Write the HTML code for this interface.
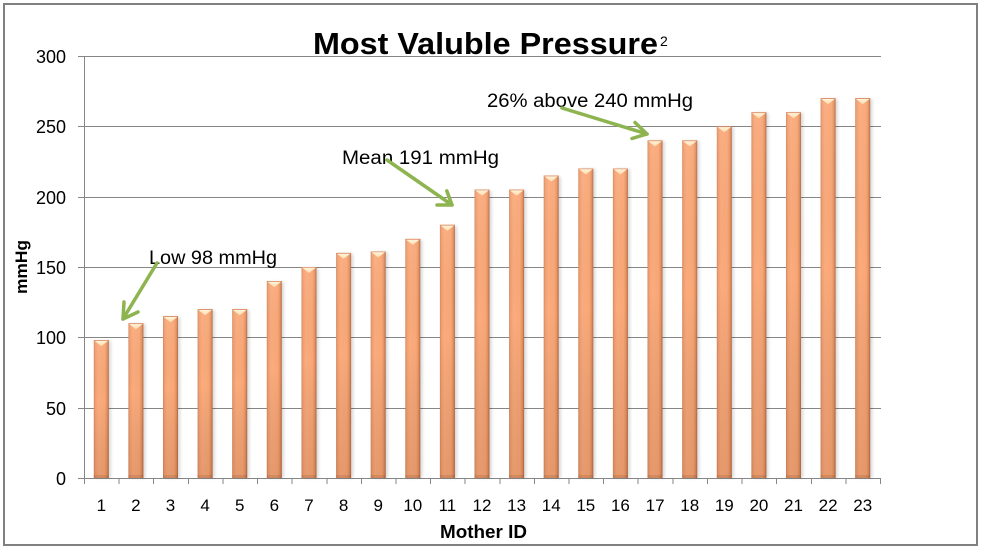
<!DOCTYPE html>
<html><head><meta charset="utf-8">
<style>
html,body{margin:0;padding:0;background:#fff;}
svg{display:block;}
text{font-family:"Liberation Sans",Arial,sans-serif;fill:#000;}
</style></head>
<body>
<svg width="981" height="550" viewBox="0 0 981 550" xmlns="http://www.w3.org/2000/svg">
<defs>
<linearGradient id="gh" x1="0" y1="0" x2="1" y2="0">
<stop offset="0" stop-color="#d4865c"/>
<stop offset="0.1" stop-color="#f0a072"/>
<stop offset="0.3" stop-color="#fbab7c"/>
<stop offset="0.72" stop-color="#f8a878"/>
<stop offset="0.88" stop-color="#e8935f"/>
<stop offset="1" stop-color="#b46847"/>
</linearGradient>
<linearGradient id="gv" x1="0" y1="0" x2="0" y2="1">
<stop offset="0" stop-color="#fff" stop-opacity="0.05"/>
<stop offset="0.45" stop-color="#000" stop-opacity="0"/>
<stop offset="1" stop-color="#6a3010" stop-opacity="0.14"/>
</linearGradient>
<linearGradient id="cap" x1="0" y1="0" x2="0" y2="1">
<stop offset="0" stop-color="#fff4dc"/>
<stop offset="1" stop-color="#ffdcaa"/>
</linearGradient>
<filter id="bl" x="-50%" y="-10%" width="200%" height="120%"><feGaussianBlur stdDeviation="1.6"/></filter>
<g id="capg"><rect width="15" height="0.8" fill="#d98a60"/><path d="M0.8,0.8H14.2L7.5,6Z" fill="url(#cap)"/></g>
</defs>

<rect x="4" y="4" width="973" height="541" fill="#fff" stroke="#808080" stroke-width="2"/>

<!-- gridlines -->
<g stroke="#868686" stroke-width="1" shape-rendering="crispEdges">
<line x1="78" y1="56.5" x2="881" y2="56.5"/>
<line x1="78" y1="126.5" x2="881" y2="126.5"/>
<line x1="78" y1="197.5" x2="881" y2="197.5"/>
<line x1="78" y1="267.5" x2="881" y2="267.5"/>
<line x1="78" y1="337.5" x2="881" y2="337.5"/>
<line x1="78" y1="408.5" x2="881" y2="408.5"/>
<line x1="78" y1="478.5" x2="881" y2="478.5"/>
<line x1="84.5" y1="56" x2="84.5" y2="484"/>
<line x1="119.1" y1="478" x2="119.1" y2="484"/>
<line x1="153.7" y1="478" x2="153.7" y2="484"/>
<line x1="188.3" y1="478" x2="188.3" y2="484"/>
<line x1="222.9" y1="478" x2="222.9" y2="484"/>
<line x1="257.5" y1="478" x2="257.5" y2="484"/>
<line x1="292.1" y1="478" x2="292.1" y2="484"/>
<line x1="326.8" y1="478" x2="326.8" y2="484"/>
<line x1="361.4" y1="478" x2="361.4" y2="484"/>
<line x1="396" y1="478" x2="396" y2="484"/>
<line x1="430.6" y1="478" x2="430.6" y2="484"/>
<line x1="465.2" y1="478" x2="465.2" y2="484"/>
<line x1="499.8" y1="478" x2="499.8" y2="484"/>
<line x1="534.4" y1="478" x2="534.4" y2="484"/>
<line x1="569" y1="478" x2="569" y2="484"/>
<line x1="603.6" y1="478" x2="603.6" y2="484"/>
<line x1="638.2" y1="478" x2="638.2" y2="484"/>
<line x1="672.8" y1="478" x2="672.8" y2="484"/>
<line x1="707.5" y1="478" x2="707.5" y2="484"/>
<line x1="742.1" y1="478" x2="742.1" y2="484"/>
<line x1="776.7" y1="478" x2="776.7" y2="484"/>
<line x1="811.3" y1="478" x2="811.3" y2="484"/>
<line x1="845.9" y1="478" x2="845.9" y2="484"/>
<line x1="880.5" y1="478" x2="880.5" y2="484"/>
</g>

<!-- shadows -->
<g fill="#000" opacity="0.16" filter="url(#bl)">
<rect x="95.8" y="341" width="15" height="137"/>
<rect x="130.4" y="324" width="15" height="154"/>
<rect x="165" y="317" width="15" height="161"/>
<rect x="199.6" y="310" width="15" height="168"/>
<rect x="234.2" y="310" width="15" height="168"/>
<rect x="268.8" y="282" width="15" height="196"/>
<rect x="303.5" y="268" width="15" height="210"/>
<rect x="338.1" y="254" width="15" height="224"/>
<rect x="372.7" y="252" width="15" height="226"/>
<rect x="407.3" y="240" width="15" height="238"/>
<rect x="441.9" y="226" width="15" height="252"/>
<rect x="476.5" y="191" width="15" height="287"/>
<rect x="511.1" y="191" width="15" height="287"/>
<rect x="545.7" y="177" width="15" height="301"/>
<rect x="580.3" y="169" width="15" height="309"/>
<rect x="614.9" y="169" width="15" height="309"/>
<rect x="649.5" y="141" width="15" height="337"/>
<rect x="684.2" y="141" width="15" height="337"/>
<rect x="718.8" y="127" width="15" height="351"/>
<rect x="753.4" y="113" width="15" height="365"/>
<rect x="788" y="113" width="15" height="365"/>
<rect x="822.6" y="99" width="15" height="379"/>
<rect x="857.2" y="99" width="15" height="379"/>
</g>

<!-- bars -->
<g>
<g transform="translate(93.8,340.1)"><rect width="15" height="137.9" fill="url(#gh)"/><rect width="15" height="137.9" fill="url(#gv)"/><rect y="134.9" width="15" height="3" fill="#6b3418" opacity=".15"/><use href="#capg"/></g>
<g transform="translate(128.4,323.3)"><rect width="15" height="154.7" fill="url(#gh)"/><rect width="15" height="154.7" fill="url(#gv)"/><rect y="151.7" width="15" height="3" fill="#6b3418" opacity=".15"/><use href="#capg"/></g>
<g transform="translate(163,316.2)"><rect width="15" height="161.8" fill="url(#gh)"/><rect width="15" height="161.8" fill="url(#gv)"/><rect y="158.8" width="15" height="3" fill="#6b3418" opacity=".15"/><use href="#capg"/></g>
<g transform="translate(197.6,309.2)"><rect width="15" height="168.8" fill="url(#gh)"/><rect width="15" height="168.8" fill="url(#gv)"/><rect y="165.8" width="15" height="3" fill="#6b3418" opacity=".15"/><use href="#capg"/></g>
<g transform="translate(232.2,309.2)"><rect width="15" height="168.8" fill="url(#gh)"/><rect width="15" height="168.8" fill="url(#gv)"/><rect y="165.8" width="15" height="3" fill="#6b3418" opacity=".15"/><use href="#capg"/></g>
<g transform="translate(266.8,281.1)"><rect width="15" height="196.9" fill="url(#gh)"/><rect width="15" height="196.9" fill="url(#gv)"/><rect y="193.9" width="15" height="3" fill="#6b3418" opacity=".15"/><use href="#capg"/></g>
<g transform="translate(301.5,267)"><rect width="15" height="211" fill="url(#gh)"/><rect width="15" height="211" fill="url(#gv)"/><rect y="208" width="15" height="3" fill="#6b3418" opacity=".15"/><use href="#capg"/></g>
<g transform="translate(336.1,252.9)"><rect width="15" height="225.1" fill="url(#gh)"/><rect width="15" height="225.1" fill="url(#gv)"/><rect y="222.1" width="15" height="3" fill="#6b3418" opacity=".15"/><use href="#capg"/></g>
<g transform="translate(370.7,251.5)"><rect width="15" height="226.5" fill="url(#gh)"/><rect width="15" height="226.5" fill="url(#gv)"/><rect y="223.5" width="15" height="3" fill="#6b3418" opacity=".15"/><use href="#capg"/></g>
<g transform="translate(405.3,238.9)"><rect width="15" height="239.1" fill="url(#gh)"/><rect width="15" height="239.1" fill="url(#gv)"/><rect y="236.1" width="15" height="3" fill="#6b3418" opacity=".15"/><use href="#capg"/></g>
<g transform="translate(439.9,224.8)"><rect width="15" height="253.2" fill="url(#gh)"/><rect width="15" height="253.2" fill="url(#gv)"/><rect y="250.2" width="15" height="3" fill="#6b3418" opacity=".15"/><use href="#capg"/></g>
<g transform="translate(474.5,189.6)"><rect width="15" height="288.4" fill="url(#gh)"/><rect width="15" height="288.4" fill="url(#gv)"/><rect y="285.4" width="15" height="3" fill="#6b3418" opacity=".15"/><use href="#capg"/></g>
<g transform="translate(509.1,189.6)"><rect width="15" height="288.4" fill="url(#gh)"/><rect width="15" height="288.4" fill="url(#gv)"/><rect y="285.4" width="15" height="3" fill="#6b3418" opacity=".15"/><use href="#capg"/></g>
<g transform="translate(543.7,175.6)"><rect width="15" height="302.4" fill="url(#gh)"/><rect width="15" height="302.4" fill="url(#gv)"/><rect y="299.4" width="15" height="3" fill="#6b3418" opacity=".15"/><use href="#capg"/></g>
<g transform="translate(578.3,168.5)"><rect width="15" height="309.5" fill="url(#gh)"/><rect width="15" height="309.5" fill="url(#gv)"/><rect y="306.5" width="15" height="3" fill="#6b3418" opacity=".15"/><use href="#capg"/></g>
<g transform="translate(612.9,168.5)"><rect width="15" height="309.5" fill="url(#gh)"/><rect width="15" height="309.5" fill="url(#gv)"/><rect y="306.5" width="15" height="3" fill="#6b3418" opacity=".15"/><use href="#capg"/></g>
<g transform="translate(647.5,140.4)"><rect width="15" height="337.6" fill="url(#gh)"/><rect width="15" height="337.6" fill="url(#gv)"/><rect y="334.6" width="15" height="3" fill="#6b3418" opacity=".15"/><use href="#capg"/></g>
<g transform="translate(682.2,140.4)"><rect width="15" height="337.6" fill="url(#gh)"/><rect width="15" height="337.6" fill="url(#gv)"/><rect y="334.6" width="15" height="3" fill="#6b3418" opacity=".15"/><use href="#capg"/></g>
<g transform="translate(716.8,126.3)"><rect width="15" height="351.7" fill="url(#gh)"/><rect width="15" height="351.7" fill="url(#gv)"/><rect y="348.7" width="15" height="3" fill="#6b3418" opacity=".15"/><use href="#capg"/></g>
<g transform="translate(751.4,112.3)"><rect width="15" height="365.7" fill="url(#gh)"/><rect width="15" height="365.7" fill="url(#gv)"/><rect y="362.7" width="15" height="3" fill="#6b3418" opacity=".15"/><use href="#capg"/></g>
<g transform="translate(786,112.3)"><rect width="15" height="365.7" fill="url(#gh)"/><rect width="15" height="365.7" fill="url(#gv)"/><rect y="362.7" width="15" height="3" fill="#6b3418" opacity=".15"/><use href="#capg"/></g>
<g transform="translate(820.6,98.2)"><rect width="15" height="379.8" fill="url(#gh)"/><rect width="15" height="379.8" fill="url(#gv)"/><rect y="376.8" width="15" height="3" fill="#6b3418" opacity=".15"/><use href="#capg"/></g>
<g transform="translate(855.2,98.2)"><rect width="15" height="379.8" fill="url(#gh)"/><rect width="15" height="379.8" fill="url(#gv)"/><rect y="376.8" width="15" height="3" fill="#6b3418" opacity=".15"/><use href="#capg"/></g>
</g>

<!-- y labels -->
<g font-size="18" text-anchor="end">
<text x="66" y="63">300</text>
<text x="66" y="133">250</text>
<text x="66" y="204">200</text>
<text x="66" y="274">150</text>
<text x="66" y="344">100</text>
<text x="66" y="415">50</text>
<text x="66" y="485">0</text>
</g>

<!-- x labels -->
<g font-size="17" text-anchor="middle">
<text x="101.3" y="511">1</text>
<text x="135.9" y="511">2</text>
<text x="170.5" y="511">3</text>
<text x="205.1" y="511">4</text>
<text x="239.7" y="511">5</text>
<text x="274.4" y="511">6</text>
<text x="309" y="511">7</text>
<text x="343.6" y="511">8</text>
<text x="378.2" y="511">9</text>
<text x="412.8" y="511">10</text>
<text x="447.4" y="511">11</text>
<text x="482" y="511">12</text>
<text x="516.6" y="511">13</text>
<text x="551.2" y="511">14</text>
<text x="585.8" y="511">15</text>
<text x="620.4" y="511">16</text>
<text x="655.1" y="511">17</text>
<text x="689.7" y="511">18</text>
<text x="724.3" y="511">19</text>
<text x="758.9" y="511">20</text>
<text x="793.5" y="511">21</text>
<text x="828.1" y="511">22</text>
<text x="862.7" y="511">23</text>
</g>

<!-- axis titles -->
<text x="440" y="538" font-size="18" font-weight="bold" textLength="87" lengthAdjust="spacingAndGlyphs">Mother ID</text>
<text transform="translate(27,267) rotate(-90)" font-size="17" font-weight="bold" text-anchor="middle" textLength="54" lengthAdjust="spacingAndGlyphs">mmHg</text>

<!-- title -->
<text x="313" y="54" font-size="31" font-weight="bold" textLength="345" lengthAdjust="spacingAndGlyphs">Most Valuble Pressure</text>
<text x="660" y="46" font-size="14">2</text>

<!-- annotations -->
<text x="149" y="264" font-size="19" textLength="128" lengthAdjust="spacingAndGlyphs">Low 98 mmHg</text>
<text x="342" y="164" font-size="19" textLength="157" lengthAdjust="spacingAndGlyphs">Mean 191 mmHg</text>
<text x="487" y="107" font-size="19" textLength="206" lengthAdjust="spacingAndGlyphs">26% above 240 mmHg</text>

<!-- arrows -->
<g stroke="#8db44f" stroke-width="3.5" fill="none" stroke-linecap="round" stroke-linejoin="round">
<line x1="157" y1="263" x2="123" y2="319"/>
<polyline points="124,302 123,319 138,312"/>
<line x1="387" y1="160" x2="452" y2="205"/>
<polyline points="446.8,190.9 452,205 437,205"/>
<line x1="562" y1="108" x2="647" y2="134"/>
<polyline points="635,122.5 647,134 632,138.5"/>
</g>
</svg>
</body></html>
